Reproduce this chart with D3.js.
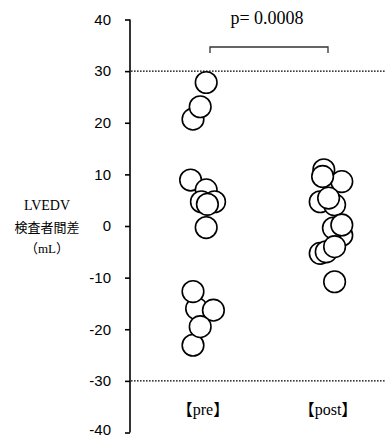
<!DOCTYPE html>
<html>
<head>
<meta charset="utf-8">
<script src="https://cdn.jsdelivr.net/npm/d3@7"></script>
<style>
  body { margin: 0; background: #fff; }
  svg text { fill: #000; }
  .serif { font-family: "Liberation Serif", "DejaVu Serif", "Noto Sans CJK JP", serif; }
  .tick text { font-family: "Liberation Sans", Arial, sans-serif; font-size: 15px; }
</style>
</head>
<body>
<div id="chart"></div>
<script>
// group names and axis ticks
var groups = ["pre", "post"];
var groupLabels = ["【pre】", "【post】"];
var yTicks = [40, 30, 20, 10, 0, -10, -20, -30, -40];
var limits = [30, -30];
var pText = "p= 0.0008";
var yLabel = ["LVEDV", "検査者間差", "（mL）"];

// values (drawing order kept so overlaps look right)
var preValues  = [20.7, 23.1, 27.8, 8.9, 7.0, -0.3, 4.7, 4.7, 4.2, -16.0, -12.7, -16.3, -23.1, -19.5];
var preJitter  = [-0.10, -0.04, 0.01, -0.12, 0.01, 0.01, -0.03, 0.08, 0.02, -0.07, -0.10, 0.07, -0.10, -0.04];
var postValues = [10.9, 8.6, 9.6, 4.7, 4.1, 5.4, -1.8, -0.4, 0.2, -5.3, -5.0, -4.0, -10.8];
var postJitter = [-0.01, 0.14, -0.02, -0.04, 0.08, 0.03, 0.14, 0.07, 0.14, -0.04, 0.01, 0.08, 0.08];

var width = 387, height = 438;
var margin = {left: 130, right: 2, top: 20, bottom: 6};

var svg = d3.select("#chart").append("svg")
    .attr("width", width)
    .attr("height", height);

var y = d3.scaleLinear().domain([-40, 40]).range([432.5, 19.5]);
var x = d3.scaleLinear().domain([0, 1]).range([205, 325]);

// y axis
var yAxis = svg.append("g")
    .attr("transform", "translate(" + margin.left + ",0)")
    .call(d3.axisLeft(y).tickValues(yTicks).tickSize(5).tickPadding(14).tickFormat(d3.format("d")));
yAxis.select(".domain").attr("stroke", "#000").attr("stroke-width", 1.6)
    .attr("d", "M0," + y(40) + "V" + y(-40));
yAxis.selectAll(".tick line").attr("stroke", "#000").attr("stroke-width", 1.6);
yAxis.selectAll(".tick text")
    .text(function(d) { return d < 0 ? "-" + Math.abs(d) : d; })
    .attr("dy", function(d) { return d === -40 ? "0.1em" : "0.32em"; });

// dotted limit lines
svg.selectAll("line.limit").data(limits).enter().append("line")
    .attr("class", "limit")
    .attr("x1", margin.left + 1).attr("x2", 385)
    .attr("y1", function(d) { return y(d); })
    .attr("y2", function(d) { return y(d); })
    .attr("stroke", "#000")
    .attr("stroke-width", 1.3)
    .attr("stroke-dasharray", "1.6,1.4");

// y label
svg.append("g").selectAll("text").data(yLabel).enter().append("text")
    .attr("class", "serif")
    .attr("x", 47)
    .attr("y", function(d, i) { return 210 + i * 21.5; })
    .attr("text-anchor", "middle")
    .style("font-size", function(d, i) { return i === 0 ? "14px" : "13px"; })
    .text(function(d) { return d; });

// group labels
svg.selectAll("text.glabel").data(groupLabels).enter().append("text")
    .attr("class", "glabel serif")
    .attr("x", function(d, i) { return x(i) + (i === 0 ? -2 : 3); })
    .attr("y", 415)
    .attr("text-anchor", "middle")
    .style("font-size", "16px")
    .text(function(d) { return d; });

// significance bracket
var b1 = 210, b2 = 328, by = 47;
svg.append("path")
    .attr("d", "M" + b1 + "," + (by + 6) + "V" + by + "H" + b2 + "V" + (by + 6))
    .attr("fill", "none")
    .attr("stroke", "#333")
    .attr("stroke-width", 1.3);
svg.append("text")
    .attr("class", "serif")
    .attr("x", 267)
    .attr("y", 24)
    .attr("text-anchor", "middle")
    .style("font-size", "18px")
    .text(pText);

// points
var points = [];
preValues.forEach(function(v, i) { points.push({g: 0, v: v, j: preJitter[i]}); });
postValues.forEach(function(v, i) { points.push({g: 1, v: v, j: postJitter[i]}); });

svg.append("g").selectAll("circle").data(points).enter().append("circle")
    .attr("cx", function(d) { return x(d.g + d.j); })
    .attr("cy", function(d) { return y(d.v); })
    .attr("r", 10.8)
    .attr("fill", "#fff")
    .attr("stroke", "#000")
    .attr("stroke-width", 1.6);
</script>
</body>
</html>
